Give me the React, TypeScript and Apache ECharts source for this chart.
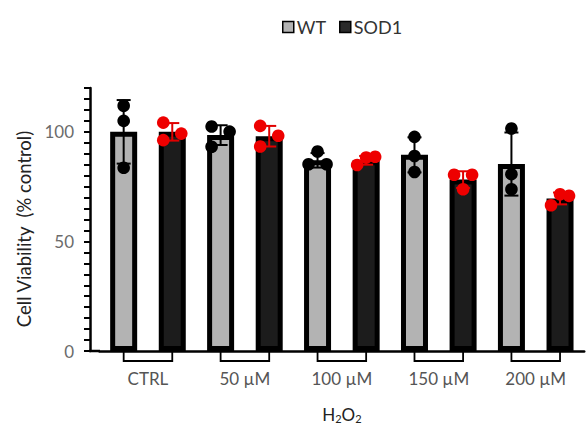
import React, { useEffect, useRef } from "react";
import * as echarts from "echarts";

const categories = ["CTRL", "50 µM", "100 µM", "150 µM", "200 µM"];
const seriesNames = ["WT", "SOD1"];
const wtMean = [100, 98.5, 87, 89.5, 85.3];
const sodMean = [100, 98, 87, 78.2, 69.6];
const wtSD = [14.5, 4.5, 3.3, 8, 14.4];
const sodSD = [4, 4.7, 2, 3.8, 2.7];
const wtPoints = [
  [111.9, 105, 83.6],
  [102.4, 100.1, 93.2],
  [91, 85.2, 85.2],
  [97.7, 89, 81.7],
  [101.5, 80.7, 73.8],
];
const sodPoints = [
  [104.2, 99.2, 96.2],
  [102.7, 98.2, 93.3],
  [84.9, 88.3, 88.6],
  [80.4, 80.4, 73.8],
  [66.5, 71.5, 70.8],
];
const wtJitter = [
  [0, 0, 0],
  [-1, 1, -1],
  [0, -1, 1],
  [0, 0, 0],
  [0, 0, 0],
];
const sodJitter = [
  [-1, 1, -1],
  [-1, 1, -1],
  [-1, 0, 1],
  [-1, 1, 0],
  [-1, 0, 1],
];
const yTicks = { min: 0, max: 120, step: 5, labelEvery: 50 };

const FONT = "Lato";
const BAR_W = 27;
const BAR_GAP = 0.8;
const HALF = (BAR_W + BAR_W * BAR_GAP) / 2;
const JIT = 9;

export default function App() {
  const ref = useRef<HTMLDivElement>(null);
  useEffect(() => {
    if (!ref.current) return;
    const chart = echarts.init(ref.current, null, { renderer: "svg" });

    const errData: any[] = [];
    const dotData: any[] = [];
    categories.forEach((_, i) => {
      errData.push([i, wtMean[i], wtSD[i], 0]);
      errData.push([i, sodMean[i], sodSD[i], 1]);
      wtPoints[i].forEach((v, k) => dotData.push([i, v, wtJitter[i][k], 0]));
      sodPoints[i].forEach((v, k) => dotData.push([i, v, sodJitter[i][k], 1]));
    });

    const option: any = {
      animation: false,
      grid: { left: 99.5, right: 2.8, top: 88, bottom: 75, containLabel: false, outerBoundsMode: "none" },
      legend: {
        data: [
          { name: seriesNames[0], itemStyle: { color: "#b3b3b3", borderColor: "#000", borderWidth: 1.5 } },
          { name: seriesNames[1], itemStyle: { color: "#2a2a2a", borderColor: "#000", borderWidth: 1.5 } },
        ],
        left: 277,
        top: 13,
        icon: "rect",
        itemWidth: 11,
        itemHeight: 11,
        itemGap: 13,
        textStyle: { fontFamily: FONT, fontSize: 18, color: "#333", padding: [0, 0, 0, -2] },
      },
      xAxis: {
        type: "category",
        data: categories,
        axisLine: { lineStyle: { color: "#000", width: 2.5 } },
        axisTick: { show: false },
        axisLabel: { color: "#555", fontFamily: FONT, fontSize: 17, margin: 19 },
        name: "H{s|2}O{s|2}",
        nameLocation: "middle",
        nameGap: 54,
        nameTextStyle: {
          fontFamily: FONT,
          fontSize: 17,
          color: "#222",
          rich: { s: { fontFamily: FONT, fontSize: 11, color: "#222", verticalAlign: "bottom", padding: [8, 0, 0, 0] } },
        },
      },
      yAxis: {
        type: "value",
        min: yTicks.min,
        max: yTicks.max,
        interval: yTicks.step,
        offset: 9.5,
        splitLine: { show: false },
        axisLine: { show: true, lineStyle: { color: "#000", width: 2.5 } },
        axisTick: { show: true, length: 6, lineStyle: { color: "#000", width: 2 } },
        axisLabel: {
          color: "#6b6b6b",
          fontFamily: FONT,
          fontSize: 17,
          margin: 16,
          formatter: (v: number) => (v % yTicks.labelEvery === 0 ? String(v) : ""),
        },
      },
      graphic: [
        {
          type: "line",
          shape: { x1: 89, y1: 351, x2: 100, y2: 351 },
          style: { stroke: "#000", lineWidth: 2.5 },
        },
        {
          type: "text",
          x: 24,
          y: 229,
          rotation: Math.PI / 2,
          style: {
            text: "Cell Viability  (% control)",
            fontFamily: FONT,
            fontSize: 18.5,
            fill: "#222",
            align: "center",
            verticalAlign: "middle",
          },
        },
      ],
      series: [
        {
          name: seriesNames[0],
          type: "bar",
          data: wtMean,
          barWidth: BAR_W,
          barGap: BAR_GAP * 100 + "%",
          itemStyle: { color: "#b3b3b3", borderColor: "#000", borderWidth: 5 },
          z: 2,
        },
        {
          name: seriesNames[1],
          type: "bar",
          data: sodMean,
          barWidth: BAR_W,
          barGap: BAR_GAP * 100 + "%",
          itemStyle: { color: "#1c1c1c", borderColor: "#000", borderWidth: 5 },
          z: 2,
        },
        {
          type: "custom",
          data: categories.map((_, i) => [i]),
          clip: false,
          silent: true,
          z: 1,
          renderItem: (params: any, api: any) => {
            const i = api.value(0);
            const c = api.coord([i, 0]);
            const y0 = c[1];
            return {
              type: "polyline",
              shape: {
                points: [
                  [c[0] - HALF, y0],
                  [c[0] - HALF, y0 + 10],
                  [c[0] + HALF, y0 + 10],
                  [c[0] + HALF, y0],
                ],
              },
              style: { stroke: "#000", lineWidth: 1.8, fill: null },
            };
          },
        },
        {
          type: "custom",
          data: errData,
          clip: false,
          silent: true,
          z: 3,
          renderItem: (params: any, api: any) => {
            const i = api.value(0);
            const m = api.value(1);
            const sd = api.value(2);
            const g = api.value(3);
            const x = api.coord([i, m])[0] + (g === 0 ? -HALF : HALF);
            const yt = api.coord([i, m + sd])[1];
            const yb = api.coord([i, m - sd])[1];
            const col = g === 0 ? "#000" : "#e00000";
            const cw = 7;
            return {
              type: "group",
              children: [
                { type: "line", shape: { x1: x, y1: yt, x2: x, y2: yb }, style: { stroke: col, lineWidth: 2 } },
                { type: "line", shape: { x1: x - cw, y1: yt, x2: x + cw, y2: yt }, style: { stroke: col, lineWidth: 2 } },
                { type: "line", shape: { x1: x - cw, y1: yb, x2: x + cw, y2: yb }, style: { stroke: col, lineWidth: 2 } },
              ],
            };
          },
        },
        {
          type: "custom",
          data: dotData,
          clip: false,
          silent: true,
          z: 4,
          renderItem: (params: any, api: any) => {
            const i = api.value(0);
            const v = api.value(1);
            const j = api.value(2);
            const g = api.value(3);
            const p = api.coord([i, v]);
            const x = p[0] + (g === 0 ? -HALF : HALF) + j * JIT;
            return {
              type: "circle",
              shape: { cx: x, cy: p[1], r: 6.3 },
              style: { fill: g === 0 ? "#000" : "#ee0000" },
            };
          },
        },
      ],
    };
    chart.setOption(option);
    return () => chart.dispose();
  }, []);
  return (
    <div
      ref={ref}
      style={{ position: "fixed", left: 0, top: 0, width: 587, height: 426, background: "#fff" }}
    />
  );
}
